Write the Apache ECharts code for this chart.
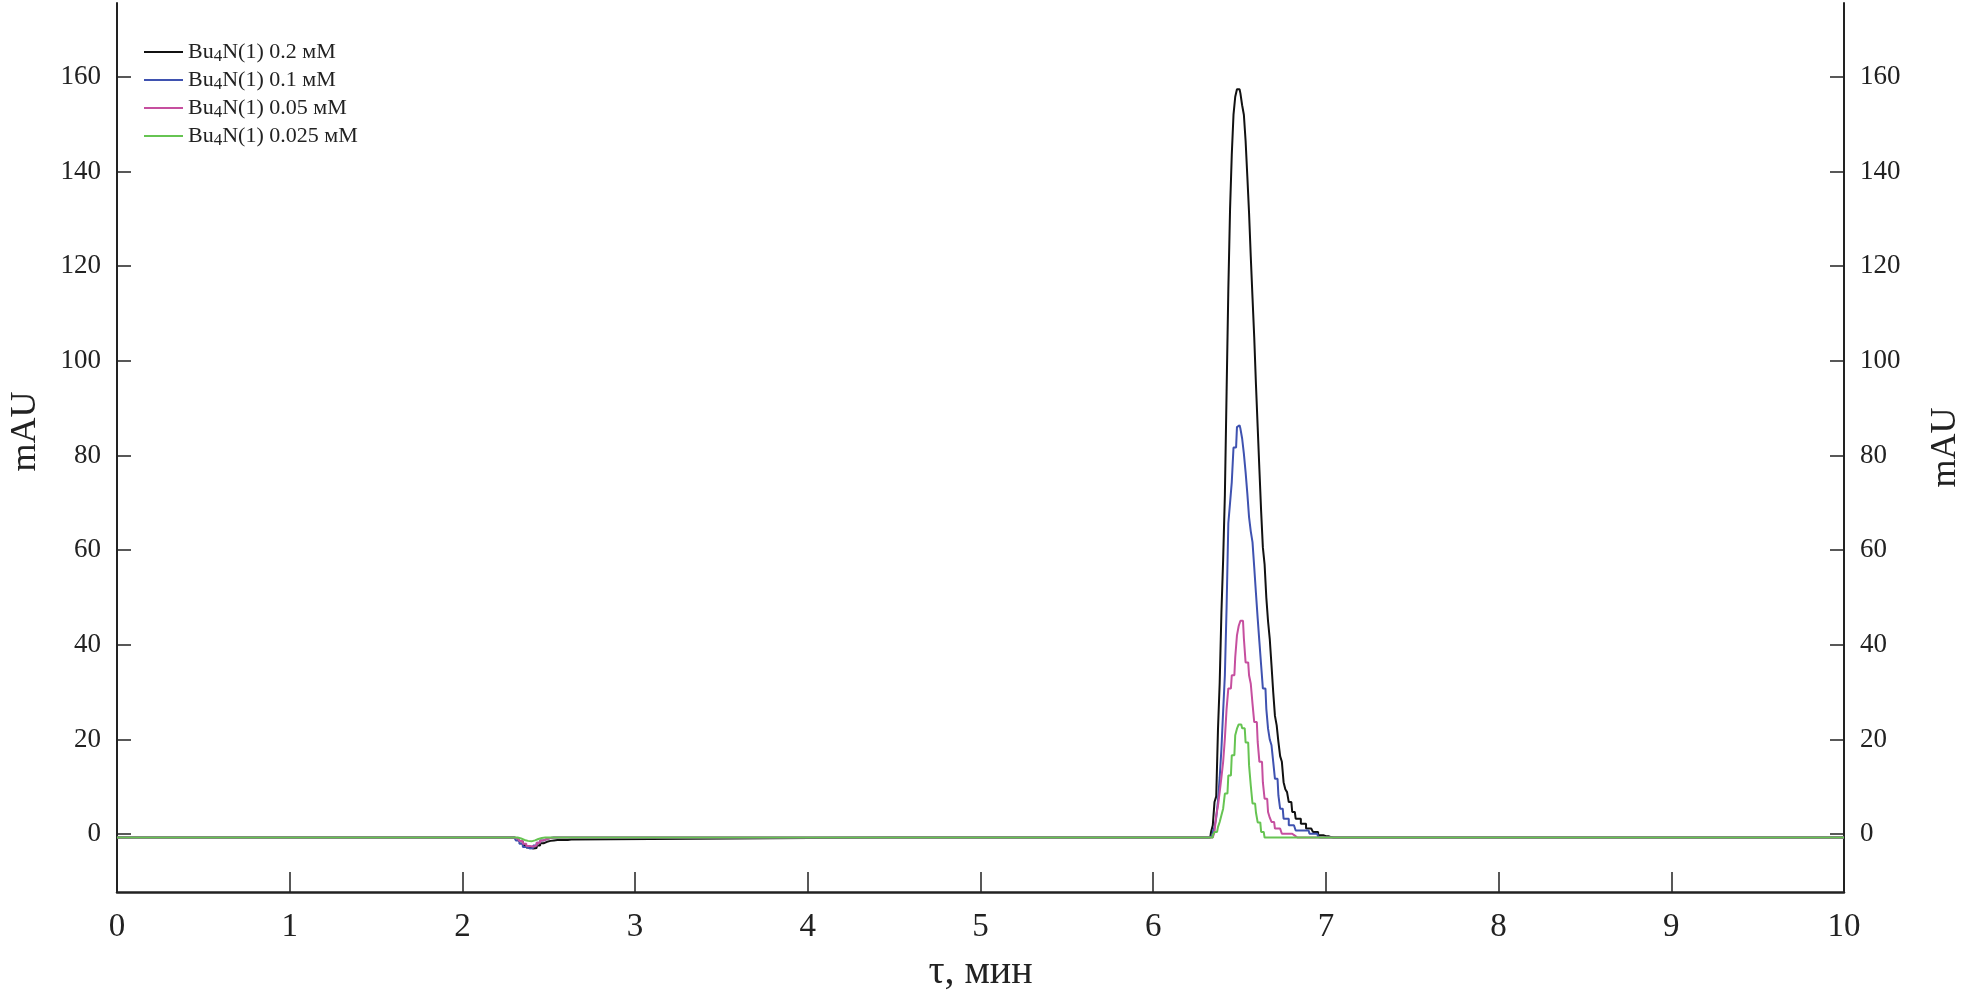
<!DOCTYPE html>
<html><head><meta charset="utf-8">
<script src="https://cdn.jsdelivr.net/npm/echarts@6/dist/echarts.min.js"></script>
<style>html,body{margin:0;padding:0;background:#fff}#c{width:1972px;height:997px}</style>
</head><body><div id="c"></div>
<script>
const xTicks = [0,1,2,3,4,5,6,7,8,9,10];
const yTicks = [0,20,40,60,80,100,120,140,160];
const seriesNames = ['Bu4N(1) 0.2 мМ','Bu4N(1) 0.1 мМ','Bu4N(1) 0.05 мМ','Bu4N(1) 0.025 мМ'];
const legendParts = [['Bu','4','N(1) 0.2 мМ'],['Bu','4','N(1) 0.1 мМ'],['Bu','4','N(1) 0.05 мМ'],['Bu','4','N(1) 0.025 мМ']];
const colors = ['#111111','#3f52b0','#c64f9f','#66c452'];

const dipTimes = [2.28,2.30,2.32,2.34,2.36,2.38,2.40,2.42,2.44,2.46,2.48,2.50,2.52,2.54,2.56,2.58,2.60,2.62,2.64];
const peakTimes = [
  6.30,6.31,6.32,6.33,6.34,6.35,6.36,6.37,6.38,6.39,
  6.40,6.41,6.42,6.43,6.44,6.45,6.46,6.47,6.48,6.49,
  6.50,6.51,6.52,6.53,6.54,6.55,6.56,6.57,6.58,6.59,
  6.60,6.61,6.62,6.63,6.64,6.65,6.66,6.67,6.68,6.69,
  6.70,6.71,6.72,6.73,6.74,6.75,6.76,6.77,6.78,6.79,
  6.80,6.81,6.82,6.83,6.84,6.85,6.86,6.87,6.88,6.89,
  6.90,6.91,6.92,6.93,6.94,6.95,6.96,6.97,6.98,6.99,
  7.00,7.01,7.02,7.03,7.04,7.05,7.06];
const startTime = [0];
const endTime = [10];
const baseline = [-0.7];

const blackDip = [-0.7,-0.7,-0.9,-1.5,-2.3,-2.8,-3.0,-2.9,-2.4,-1.9,-1.6,-1.4,-1.3,-1.2,-1.2,-1.2,-1.2,-1.1,-0.7];
const blueDip  = [-0.7,-0.7,-1.3,-2.0,-2.7,-3.0,-2.9,-2.4,-1.8,-1.3,-1.0,-0.8,-0.7,-0.7,-0.7,-0.7,-0.7,-0.7,-0.7];
const pinkDip  = [-0.7,-0.7,-0.9,-1.4,-2.0,-2.5,-2.6,-2.4,-1.8,-1.3,-1.0,-0.8,-0.7,-0.7,-0.7,-0.7,-0.7,-0.7,-0.7];
const greenDip = [-0.7,-0.7,-0.7,-0.9,-1.2,-1.4,-1.5,-1.3,-1.0,-0.8,-0.7,-0.7,-0.7,-0.7,-0.7,-0.7,-0.7,-0.7,-0.7];

const blackPeak = [
  -0.7,-0.7,-0.7,-0.7,0.5,1.9,6.8,8,22,32,
  46.8,58,71.6,93.5,115,132,143.6,152,155.8,157.4,
  157.4,156.5,154,152,146.5,139,131.3,122,113.4,105,
  95,86,77,68.2,60.6,57,50,45,41.2,35.7,
  30,25,23,19.5,16.5,15.3,11,9.5,8.9,6.8,
  6.8,4.7,4.7,3.3,3.3,3.3,2.2,2.2,2.2,1.2,
  1.2,1.2,1.2,0.5,0.5,0.5,-0.2,-0.2,-0.2,-0.2,
  -0.4,-0.4,-0.4,-0.6,-0.7,-0.7,-0.7];
const bluePeak = [
  -0.7,-0.7,-0.7,-0.6,-0.2,0.5,1.5,3.5,7,12,
  18,26,33.6,48,65.7,70,74.4,81.7,81.7,86,
  86.4,85.7,83.6,80.4,76.5,72,67,64,61.7,56.4,
  50.9,45.6,40.6,35.7,30.8,30.8,26.5,22.3,20,18.8,
  15.3,11.7,11.7,8.2,5.4,5.4,3.3,3.3,3.3,1.9,
  1.9,1.9,1.9,0.8,0.8,0.8,0.8,0.8,0.8,0.8,
  0.8,0.1,0.1,0.1,0.1,0.1,-0.6,-0.7,-0.7,-0.7,
  -0.7,-0.7,-0.7,-0.7,-0.7,-0.7,-0.7];
const pinkPeak = [
  -0.7,-0.7,-0.7,-0.7,-0.7,-0.3,0.5,4.0,6,8.9,
  12,15.3,20.2,26.5,30.8,30.8,33.6,33.6,37.4,42,
  44,45.1,45.1,41.4,36.3,36.3,33.6,31.8,27.6,23.7,
  23.7,19.5,15.3,15.3,11,7.5,7.5,4.7,3.5,2.6,
  2.6,1.2,1.2,1.2,1.2,0.1,0.1,0.1,0.1,0.1,
  0.1,-0.3,-0.3,-0.7,-0.7,-0.7,-0.7,-0.7,-0.7,-0.7,
  -0.7,-0.7,-0.7,-0.7,-0.7,-0.7,-0.7,-0.7,-0.7,-0.7,
  -0.7,-0.7,-0.7,-0.7,-0.7,-0.7,-0.7];
const greenPeak = [
  -0.7,-0.7,-0.7,-0.7,-0.7,-0.2,0.5,0.5,1.5,2.6,
  4,5.4,8.6,8.6,12.4,12.4,16.7,16.7,20.9,22.3,
  23.2,23.2,22.4,22.4,19.4,19.4,14.6,10.3,6.5,6.5,
  4.6,2.5,2.5,0.5,0.5,-0.7,-0.7,-0.7,-0.7,-0.7,
  -0.7,-0.7,-0.7,-0.7,-0.7,-0.7,-0.7,-0.7,-0.7,-0.7,
  -0.7,-0.7,-0.7,-0.7,-0.7,-0.7,-0.7,-0.7,-0.7,-0.7,
  -0.7,-0.7,-0.7,-0.7,-0.7,-0.7,-0.7,-0.7,-0.7,-0.7,
  -0.7,-0.7,-0.7,-0.7,-0.7,-0.7,-0.7];

const times = startTime.concat(dipTimes, peakTimes, endTime);
const seriesValues = [
  baseline.concat(blackDip, blackPeak, baseline),
  baseline.concat(blueDip, bluePeak, baseline),
  baseline.concat(pinkDip, pinkPeak, baseline),
  baseline.concat(greenDip, greenPeak, baseline)
];

const FONT = 'Liberation Serif';
const TXT = '#222';
const chart = echarts.init(document.getElementById('c'));
const legendMap = {};
seriesNames.forEach((n,i)=>{ const p = legendParts[i]; legendMap[n] = '{a|'+p[0]+'}{s|'+p[1]+'}{a|'+p[2]+'}'; });

const yAxisCommon = {
  type: 'value', min: -12.2, max: 175.6,
  splitLine: {show: false},
  axisLine: {show: true, lineStyle: {color: '#222', width: 2}},
  axisTick: {show: true, inside: true, length: 14, customValues: yTicks, lineStyle: {color: '#222', width: 1.5}},
  axisLabel: {customValues: yTicks, fontFamily: FONT, fontSize: 27, color: TXT, margin: 16},
  name: 'mAU', nameLocation: 'middle', nameRotate: 90
};

chart.setOption({
  animation: false,
  backgroundColor: '#fff',
  color: colors,
  grid: {left: 116, right: 128, top: 3, bottom: 105},
  legend: {
    orient: 'vertical', left: 139, top: 34,
    icon: 'rect', itemWidth: 39, itemHeight: 2, itemGap: 2,
    data: seriesNames,
    formatter: n => legendMap[n],
    textStyle: {
      fontFamily: FONT, fontSize: 22, color: TXT,
      rich: {
        a: {fontFamily: FONT, fontSize: 22, color: TXT, lineHeight: 22},
        s: {fontFamily: FONT, fontSize: 17, color: TXT, lineHeight: 14, padding: [9,0,0,0]}
      }
    }
  },
  xAxis: {
    type: 'value', min: xTicks[0], max: xTicks[xTicks.length-1], interval: 1,
    splitLine: {show: false},
    axisLine: {show: true, onZero: false, lineStyle: {color: '#222', width: 2.5}},
    axisTick: {show: true, inside: true, length: 20, lineStyle: {color: '#222', width: 1.5}},
    axisLabel: {fontFamily: FONT, fontSize: 33, color: TXT, margin: 19},
    name: 'τ, мин', nameLocation: 'middle', nameGap: 60,
    nameTextStyle: {fontFamily: FONT, fontSize: 40, color: TXT}
  },
  yAxis: [
    Object.assign({}, yAxisCommon, {position: 'left', nameGap: 73,
      nameTextStyle: {fontFamily: FONT, fontSize: 36, color: TXT, padding: [0,0,0,32]}}),
    Object.assign({}, yAxisCommon, {position: 'right', nameGap: 84,
      nameTextStyle: {fontFamily: FONT, fontSize: 36, color: TXT}})
  ],
  series: seriesNames.map((n,i)=>({
    name: n, type: 'line', symbol: 'none', step: 'middle',
    lineStyle: {width: 2, color: colors[i]},
    data: times.map((t,k)=>[t, seriesValues[i][k]])
  }))
});
</script></body></html>
